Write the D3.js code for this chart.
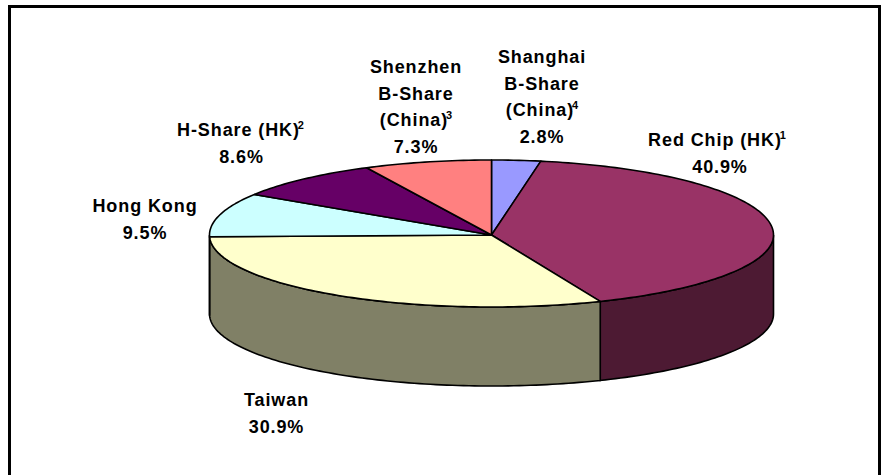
<!DOCTYPE html>
<html>
<head>
<meta charset="utf-8">
<script src="https://cdn.jsdelivr.net/npm/d3@7"></script>
<style>
    html, body { margin: 0; padding: 0; background: #fff; }
    svg { display: block; }
    text { font-family: "Liberation Sans", Arial, sans-serif; font-weight: bold; font-size: 18px; letter-spacing: 0.9px; fill: #000; }
    .sup { font-size: 11px; letter-spacing: 0; }
</style>
</head>
<body>
<svg id="chart" width="882" height="475"></svg>
<script>
const categories = ["Shanghai B-Share (China)", "Red Chip (HK)", "Taiwan", "Hong Kong", "H-Share (HK)", "Shenzhen B-Share (China)"];
const shares = [2.8, 40.9, 30.9, 9.5, 8.6, 7.3];
const footnotes = ["4", "1", "", "", "2", "3"];
const labelLines = [["Shanghai", "B-Share", "(China)"], ["Red Chip (HK)"], ["Taiwan"], ["Hong Kong"], ["H-Share (HK)"], ["Shenzhen", "B-Share", "(China)"]];
const topColors = ["#9999ff", "#993366", "#ffffcc", "#ccffff", "#660066", "#ff8080"];
const labelPos = [[542, 63], [720, 146], [276.5, 406], [145, 212], [241.5, 136], [416, 73]];
const titleDx = [0, -3, 0, 0, -1, 0];

const width = 882, height = 475;
const cx = 491.5, cy = 235, rx = 282, ryBack = 75, ryFront = 72, depth = 79;

const svg = d3.select("#chart");

// frame runs off the bottom of the picture
svg.append("rect")
    .attr("x", 9.5).attr("y", 6.5)
    .attr("width", 870).attr("height", height + 10)
    .attr("fill", "#fff").attr("stroke", "#000").attr("stroke-width", 3);

const pie = d3.pie().sort(null).value(d => d);
const slices = pie(shares);

// tilted rim: back half of the ellipse is a bit flatter than the front
function rim(a, dy = 0) {
    const c = Math.cos(a);
    return [cx + rx * Math.sin(a), cy - c * (c > 0 ? ryBack : ryFront) + dy];
}

function arcPoints(a0, a1, dy = 0) {
    const n = Math.max(2, Math.ceil((a1 - a0) / 0.02));
    return d3.range(n + 1).map(i => rim(a0 + (a1 - a0) * i / n, dy));
}

function shade(color) {
    const c = d3.rgb(color);
    return d3.rgb(c.r / 2, c.g / 2, c.b / 2);
}

const line = d3.line();

// outer wall, only the front half of the pie shows it
const wall = svg.append("g");
slices.forEach((d, i) => {
    const a0 = Math.max(d.startAngle, Math.PI / 2);
    const a1 = Math.min(d.endAngle, 3 * Math.PI / 2);
    if (a1 <= a0) return;
    const pts = arcPoints(a0, a1).concat(arcPoints(a0, a1, depth).reverse());
    wall.append("path")
        .attr("d", line(pts) + "Z")
        .attr("fill", shade(topColors[i]))
        .attr("stroke", "#000")
        .attr("stroke-width", 1.6);
});

// top face
svg.append("g").selectAll("path")
    .data(slices)
    .join("path")
    .attr("d", d => line([[cx, cy]].concat(arcPoints(d.startAngle, d.endAngle))) + "Z")
    .attr("fill", (d, i) => topColors[i])
    .attr("stroke", "#000")
    .attr("stroke-width", 1.6)
    .attr("stroke-linejoin", "round");

// labels
const lineHeight = 26.5;
const labels = svg.append("g").selectAll("g")
    .data(slices)
    .join("g")
    .attr("transform", (d, i) => `translate(${labelPos[i][0]},${labelPos[i][1]})`);

labels.each(function (d, i) {
    const g = d3.select(this);
    const lines = labelLines[i];
    lines.forEach((t, j) => {
        const el = g.append("text")
            .attr("x", titleDx[i])
            .attr("y", j * lineHeight)
            .attr("text-anchor", "middle")
            .text(t);
        if (j === lines.length - 1 && footnotes[i]) {
            el.append("tspan").attr("class", "sup").attr("dx", -2).attr("dy", -7).text(footnotes[i]);
        }
    });
    g.append("text")
        .attr("y", lines.length * lineHeight)
        .attr("text-anchor", "middle")
        .text(d3.format(".1f")(d.value) + "%");
});
</script>
</body>
</html>
